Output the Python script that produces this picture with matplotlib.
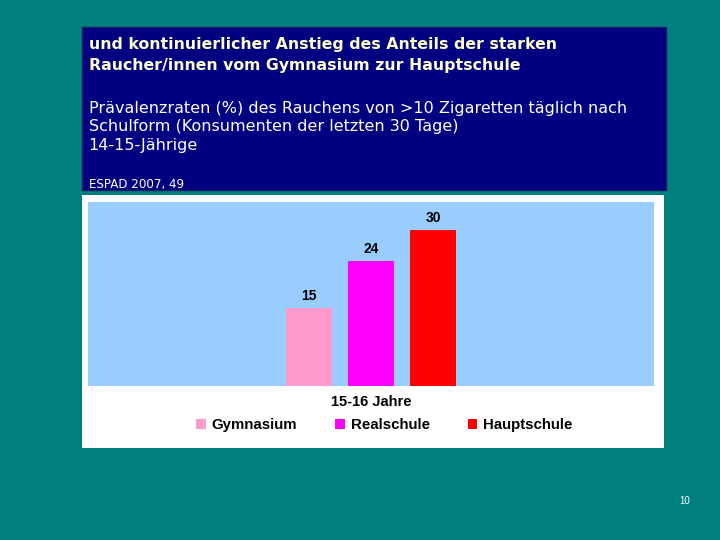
import matplotlib.pyplot as plt
from matplotlib.patches import Rectangle

schools = ['Gymnasium', 'Realschule', 'Hauptschule']
values = [15, 24, 30]
colors = ['#FF99CC', '#FF00FF', '#FF0000']
group_label = '15-16 Jahre'

fig = plt.figure(figsize=(7.2, 5.4), dpi=100)
fig.patch.set_facecolor('#007F7F')

# navy header box and white chart box (behind the axes)
fig.add_artist(Rectangle((0.1139, 0.6481), 0.8111, 0.3019, transform=fig.transFigure,
                         facecolor='#000080', edgecolor='#1A1A60', linewidth=1, zorder=-5))
fig.add_artist(Rectangle((0.1139, 0.1704), 0.8083, 0.4685, transform=fig.transFigure,
                         facecolor='white', edgecolor='none', zorder=-5))

fig.text(0.123, 0.898, 'und kontinuierlicher Anstieg des Anteils der starken\n'
         'Raucher/innen vom Gymnasium zur Hauptschule',
         color='#FFFFCC', fontsize=11.3, fontweight='bold', family='DejaVu Sans',
         va='center', ha='left', linespacing=1.55)
fig.text(0.123, 0.765, 'Prävalenzraten (%) des Rauchens von >10 Zigaretten täglich nach\n'
         'Schulform (Konsumenten der letzten 30 Tage)\n14-15-Jährige',
         color='white', fontsize=11.5, family='DejaVu Sans', va='center', ha='left',
         linespacing=1.28)
fig.text(0.123, 0.659, 'ESPAD 2007, 49', color='white', fontsize=8.6,
         family='DejaVu Sans', va='center', ha='left')
fig.text(0.951, 0.072, '10', color='white', fontsize=7, family='Liberation Sans',
         ha='center', va='center')

ax = fig.add_axes([0.1222, 0.2852, 0.7861, 0.3407])
ax.set_facecolor('#99CCFF')
x = list(range(len(schools)))
bars = ax.bar(x, values, width=0.74, color=colors, label=schools)
for xi, v in zip(x, values):
    ax.annotate(str(v), (xi, v), xytext=(0, 3.5), textcoords='offset points',
                ha='center', va='bottom', fontsize=10, fontweight='bold',
                family='Liberation Sans', color='black')
ax.set_xlim(1 - 4.56, 1 + 4.56)
ax.set_ylim(0, 35.4)
ax.set_xticks([])
ax.set_yticks([])
for s in ax.spines.values():
    s.set_visible(False)

fig.text(0.516, 0.255, group_label, ha='center', va='center', fontsize=10.5,
         fontweight='bold', family='Liberation Sans', color='black')

leg = ax.legend(bars, schools, loc='center', bbox_to_anchor=(0.534, 0.213),
                bbox_transform=fig.transFigure, ncol=3, frameon=False,
                handlelength=0.62, handleheight=0.62, handletextpad=0.4,
                columnspacing=2.55, prop={'family': 'Liberation Sans',
                                          'weight': 'bold', 'size': 10.8})

fig.savefig('out.png', dpi=100, facecolor=fig.get_facecolor())
